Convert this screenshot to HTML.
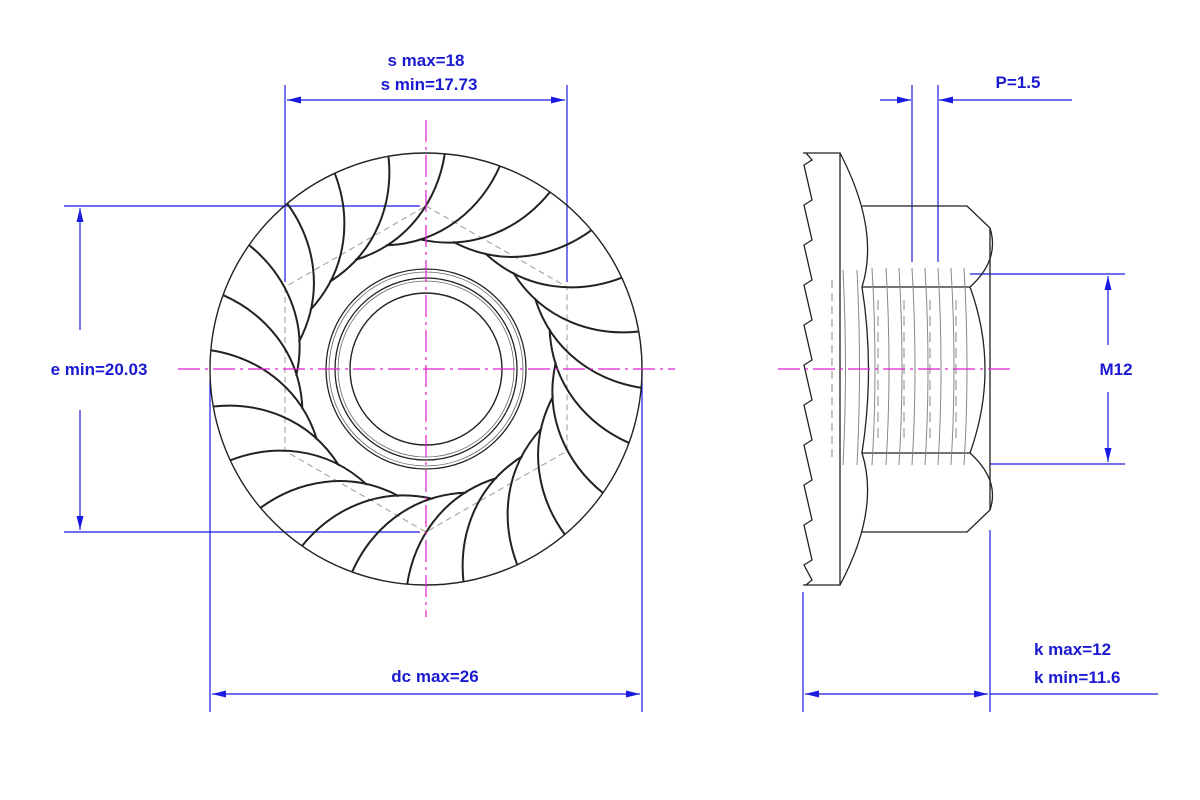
<!DOCTYPE html>
<html><head><meta charset="utf-8"><style>
html,body{margin:0;padding:0;background:#fff;}
svg{display:block}
text{font-family:"Liberation Sans",Arial,sans-serif;font-weight:bold;font-size:17px;fill:#1a1ad0}
</style></head><body>
<svg id="s" width="1200" height="800" viewBox="0 0 1200 800" xmlns="http://www.w3.org/2000/svg">
<defs>
<marker id="a" markerWidth="14" markerHeight="8" refX="14" refY="4" orient="auto" markerUnits="userSpaceOnUse"><path d="M0,0.5 L14,4 L0,7.5 Z" fill="#1a1ae0"/></marker>
</defs>
<g stroke="#1a1ae0" stroke-width="1.2" fill="none">
<line x1="285" y1="85" x2="285" y2="282"/><line x1="567" y1="85" x2="567" y2="282"/>
<line x1="426" y1="100" x2="287" y2="100" marker-end="url(#a)"/><line x1="426" y1="100" x2="565" y2="100" marker-end="url(#a)"/>
<line x1="64" y1="206" x2="420" y2="206"/><line x1="64" y1="532" x2="420" y2="532"/>
<line x1="80" y1="330" x2="80" y2="208" marker-end="url(#a)"/><line x1="80" y1="410" x2="80" y2="530" marker-end="url(#a)"/>
<line x1="210" y1="380" x2="210" y2="712"/><line x1="642" y1="369" x2="642" y2="712"/>
<line x1="426" y1="694" x2="212" y2="694" marker-end="url(#a)"/><line x1="426" y1="694" x2="640" y2="694" marker-end="url(#a)"/>
<line x1="912" y1="85" x2="912" y2="262"/><line x1="938" y1="85" x2="938" y2="262"/>
<line x1="880" y1="100" x2="911" y2="100" marker-end="url(#a)"/><line x1="1072" y1="100" x2="939" y2="100" marker-end="url(#a)"/>
<line x1="970" y1="274" x2="1125" y2="274"/><line x1="990" y1="464" x2="1125" y2="464"/>
<line x1="1108" y1="345" x2="1108" y2="276" marker-end="url(#a)"/><line x1="1108" y1="392" x2="1108" y2="462" marker-end="url(#a)"/>
<line x1="803" y1="592" x2="803" y2="712"/><line x1="990" y1="530" x2="990" y2="712"/>
<line x1="900" y1="694" x2="805" y2="694" marker-end="url(#a)"/><line x1="900" y1="694" x2="988" y2="694" marker-end="url(#a)"/>
<line x1="990" y1="694" x2="1158" y2="694"/>
</g>
<text x="426" y="66" text-anchor="middle">s max=18</text>
<text x="429" y="90" text-anchor="middle">s min=17.73</text>
<text x="99" y="375" text-anchor="middle">e min=20.03</text>
<text x="435" y="682" text-anchor="middle">dc max=26</text>
<text x="1018" y="88" text-anchor="middle">P=1.5</text>
<text x="1116" y="375" text-anchor="middle">M12</text>
<text x="1034" y="655">k max=12</text>
<text x="1034" y="683">k min=11.6</text>

<g id="L" fill="none" stroke="#222" stroke-width="1.6">
<circle cx="426" cy="369" r="216" stroke-width="1.4"/>
<circle cx="426" cy="369" r="100" stroke-width="1.3"/>
<circle cx="426" cy="369" r="97" stroke-width="0.8" stroke="#666"/>
<circle cx="426" cy="369" r="91" stroke-width="1.3"/>
<circle cx="426" cy="369" r="88" stroke-width="0.8" stroke="#666"/>
<circle cx="426" cy="369" r="76" stroke-width="1.4"/>
<polygon points="426,206 567,287 567,451 426,532 285,451 285,287" stroke="#999" stroke-width="1" stroke-dasharray="6,4"/>
</g>
<g id="R" fill="none" stroke="#222" stroke-width="1.3">
<path d="M803,153 L840,153 L840,585 L803,585"/>
<path d="M806,153 L812,160 L804,165 L812,200 L804,205 L812,240 L804,245 L812,280 L804,285 L812,320 L804,325 L812,360 L804,365 L812,400 L804,405 L812,440 L804,445 L812,480 L804,485 L812,520 L804,525 L812,560 L804,565 L812,580 L806,585"/>
<path d="M840,153 Q880,230 862,287 Q875,369 862,453 Q880,510 840,585"/>
<path d="M862,206 L967,206 L990,228 L990,510 L967,532 L862,532"/>
<path d="M990,228 Q1000,260 970,287 Q1000,369 970,453 Q1000,480 990,510"/>
<path d="M862,287 L970,287 M862,453 L970,453"/>
<g stroke="#888" stroke-width="1">
<path d="M832,280 L832,460" stroke-dasharray="8,5"/>
<path d="M843,270 Q848,369 843,465 M857,270 Q862,369 857,465 M872,268 Q878,369 872,465 M886,268 Q892,369 886,465 M899,268 Q905,369 899,465 M912,268 Q918,369 912,465 M925,268 Q931,369 925,465 M938,268 Q944,369 938,465 M951,268 Q957,369 951,465 M964,268 Q970,369 964,465"/>
<path d="M878,300 L878,440 M904,300 L904,440 M930,300 L930,440 M956,300 L956,440" stroke-dasharray="10,6"/>
</g>
</g>
<g stroke="#e020d0" stroke-width="1.2" stroke-dasharray="22,5,3,5" fill="none">
<line x1="178" y1="369" x2="675" y2="369"/>
<line x1="426" y1="120" x2="426" y2="617"/>
<line x1="778" y1="369" x2="1012" y2="369"/>
</g>
<script>
var g=document.getElementById('L'),cx=426,cy=369,d='',R=Math.PI/180;
function P(r,a){return (cx+r*Math.cos(a*R)).toFixed(1)+','+(cy+r*Math.sin(a*R)).toFixed(1);}
for(var k=0;k<24;k++){var t=-10+15*k;
d+='M'+P(216,t)+' C'+P(172,t-1)+' '+P(127,t-12)+' '+P(130,t-38)+' ';}
var p=document.createElementNS('http://www.w3.org/2000/svg','path');p.setAttribute('d',d);p.setAttribute('stroke-width','2');g.appendChild(p);
</script>
</svg>
</body></html>
